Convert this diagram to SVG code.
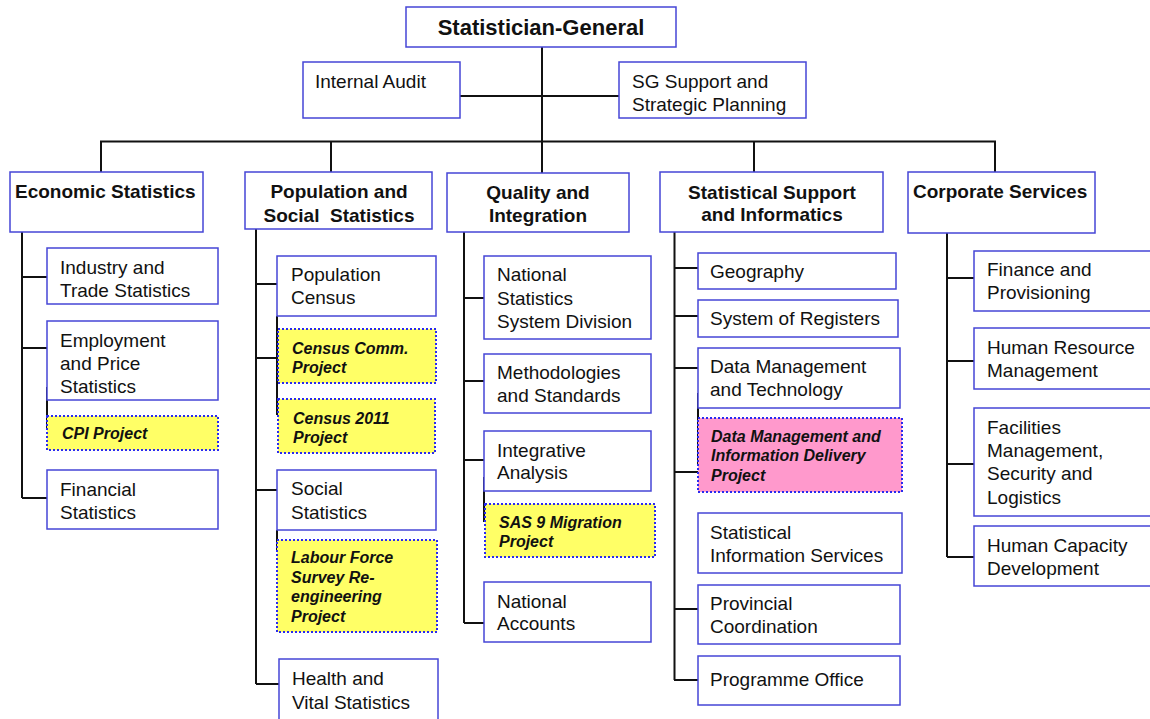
<svg xmlns="http://www.w3.org/2000/svg" width="1150" height="719" viewBox="0 0 1150 719">
  <style>
    .box { fill: #ffffff; stroke: #4646d6; stroke-width: 1.5; }
    .proj { fill: #ffff66; stroke: #2a2af0; stroke-width: 2; stroke-dasharray: 2 2; }
    .projp { fill: #ff99cc; stroke: #2a2af0; stroke-width: 2; stroke-dasharray: 2 2; }
    .ln { stroke: #111111; stroke-width: 2; fill: none; }
    text { font-family: "Liberation Sans", Arial, sans-serif; fill: #111111; }
    .t { font-size: 19px; }
    .h { font-size: 19px; font-weight: bold; }
    .hc { font-size: 19px; font-weight: bold; text-anchor: middle; }
    .p { font-size: 16px; font-weight: bold; font-style: italic; }
  </style>
  <rect width="1150" height="719" fill="#ffffff"/>

  <!-- connectors -->
  <g id="connectors" class="ln">
    <path d="M542 47 V203"/>
    <path d="M460 96 H619"/>
    <path d="M100 141.5 H996"/>
    <path d="M101 141 V172 M331 141 V172 M754 141 V172 M995 141 V172"/>
    <!-- Economic Statistics -->
    <path d="M22 232 V498 M22 277 H47 M22 348 H47 M22 498 H47 M47 387 V430"/>
    <!-- Population and Social Statistics -->
    <path d="M256 229 V684 M256 284 H277 M256 358 H278 M256 490 H277 M256 684 H279 M277 316 V415 M277 530 V552"/>
    <!-- Quality and Integration -->
    <path d="M464 232 V623 M464 298 H484 M464 381 H484 M464 460 H484 M464 623 H484 M484 477 V522"/>
    <!-- Statistical Support and Informatics -->
    <path d="M674.5 232 V680 M674 268 H698 M674 316 H698 M674 368 H698 M674 472 H698 M674 609 H698 M674 680 H698 M698 393 V465"/>
    <!-- Corporate Services -->
    <path d="M947 233 V557 M947 278 H974 M947 361 H974 M947 464 H974 M947 557 H974"/>
  </g>

  <!-- top level -->
  <g id="sg">
    <rect class="box" x="406" y="7" width="270" height="40"/>
    <text x="541" y="35" font-size="22" font-weight="bold" text-anchor="middle">Statistician-General</text>
  </g>
  <g id="internal-audit">
    <rect class="box" x="303" y="62" width="157" height="56"/>
    <text class="t" x="315" y="88">Internal Audit</text>
  </g>
  <g id="sg-support">
    <rect class="box" x="619" y="62" width="187" height="56"/>
    <text class="t" x="632" y="88">SG Support and</text>
    <text class="t" x="632" y="111">Strategic Planning</text>
  </g>

  <!-- divisions -->
  <g id="economic">
    <rect class="box" x="10" y="172" width="193" height="60"/>
    <text class="h" x="15" y="198">Economic Statistics</text>
  </g>
  <g id="population">
    <rect class="box" x="245" y="172" width="187" height="57"/>
    <text class="hc" x="339" y="198">Population and</text>
    <text class="hc" x="339" y="222" xml:space="preserve">Social  Statistics</text>
  </g>
  <g id="quality">
    <rect class="box" x="447" y="173" width="182" height="59"/>
    <text class="hc" x="538" y="199">Quality and</text>
    <text class="hc" x="538" y="222">Integration</text>
  </g>
  <g id="stat-support">
    <rect class="box" x="660" y="172" width="223" height="60"/>
    <text class="hc" x="772" y="199">Statistical Support</text>
    <text class="hc" x="772" y="221">and Informatics</text>
  </g>
  <g id="corporate">
    <rect class="box" x="908" y="172" width="187" height="61"/>
    <text class="h" x="913" y="198">Corporate Services</text>
  </g>

  <!-- Economic Statistics units -->
  <g id="industry">
    <rect class="box" x="47" y="248" width="171" height="56"/>
    <text class="t" x="60" y="274">Industry and</text>
    <text class="t" x="60" y="297">Trade Statistics</text>
  </g>
  <g id="employment">
    <rect class="box" x="47" y="321" width="171" height="79"/>
    <text class="t" x="60" y="347">Employment</text>
    <text class="t" x="60" y="370">and Price</text>
    <text class="t" x="60" y="393">Statistics</text>
  </g>
  <g id="cpi">
    <rect class="proj" x="47" y="416" width="171" height="34"/>
    <text class="p" x="62" y="439">CPI Project</text>
  </g>
  <g id="financial">
    <rect class="box" x="47" y="470" width="171" height="59"/>
    <text class="t" x="60" y="496">Financial</text>
    <text class="t" x="60" y="519">Statistics</text>
  </g>

  <!-- Population and Social Statistics units -->
  <g id="pop-census">
    <rect class="box" x="277" y="256" width="159" height="60"/>
    <text class="t" x="291" y="281">Population</text>
    <text class="t" x="291" y="304">Census</text>
  </g>
  <g id="census-comm">
    <rect class="proj" x="278" y="329" width="158" height="54"/>
    <text class="p" x="292" y="354">Census Comm.</text>
    <text class="p" x="292" y="373">Project</text>
  </g>
  <g id="census-2011">
    <rect class="proj" x="278" y="399" width="157" height="54"/>
    <text class="p" x="293" y="424">Census 2011</text>
    <text class="p" x="293" y="443">Project</text>
  </g>
  <g id="social">
    <rect class="box" x="277" y="470" width="159" height="60"/>
    <text class="t" x="291" y="495">Social</text>
    <text class="t" x="291" y="519">Statistics</text>
  </g>
  <g id="labour-force">
    <rect class="proj" x="277" y="540" width="160" height="92"/>
    <text class="p" x="291" y="563">Labour Force</text>
    <text class="p" x="291" y="583">Survey Re-</text>
    <text class="p" x="291" y="602">engineering</text>
    <text class="p" x="291" y="622">Project</text>
  </g>
  <g id="health">
    <rect class="box" x="279" y="659" width="159" height="64"/>
    <text class="t" x="292" y="685">Health and</text>
    <text class="t" x="292" y="709">Vital Statistics</text>
  </g>

  <!-- Quality and Integration units -->
  <g id="nssd">
    <rect class="box" x="484" y="256" width="167" height="83"/>
    <text class="t" x="497" y="281">National</text>
    <text class="t" x="497" y="305">Statistics</text>
    <text class="t" x="497" y="328">System Division</text>
  </g>
  <g id="methodologies">
    <rect class="box" x="484" y="354" width="167" height="59"/>
    <text class="t" x="497" y="379">Methodologies</text>
    <text class="t" x="497" y="402">and Standards</text>
  </g>
  <g id="integrative">
    <rect class="box" x="484" y="431" width="167" height="60"/>
    <text class="t" x="497" y="457">Integrative</text>
    <text class="t" x="497" y="479">Analysis</text>
  </g>
  <g id="sas9">
    <rect class="proj" x="485" y="504" width="170" height="53"/>
    <text class="p" x="499" y="528">SAS 9 Migration</text>
    <text class="p" x="499" y="547">Project</text>
  </g>
  <g id="national-accounts">
    <rect class="box" x="484" y="582" width="167" height="60"/>
    <text class="t" x="497" y="608">National</text>
    <text class="t" x="497" y="630">Accounts</text>
  </g>

  <!-- Statistical Support and Informatics units -->
  <g id="geography">
    <rect class="box" x="698" y="253" width="198" height="36"/>
    <text class="t" x="710" y="278">Geography</text>
  </g>
  <g id="registers">
    <rect class="box" x="698" y="300" width="200" height="37"/>
    <text class="t" x="710" y="325">System of Registers</text>
  </g>
  <g id="data-mgmt">
    <rect class="box" x="698" y="348" width="202" height="60"/>
    <text class="t" x="710" y="373">Data Management</text>
    <text class="t" x="710" y="396">and Technology</text>
  </g>
  <g id="dmid">
    <rect class="projp" x="698" y="418" width="204" height="74"/>
    <text class="p" x="711" y="442">Data Management and</text>
    <text class="p" x="711" y="461">Information Delivery</text>
    <text class="p" x="711" y="481">Project</text>
  </g>
  <g id="info-services">
    <rect class="box" x="698" y="513" width="204" height="60"/>
    <text class="t" x="710" y="539">Statistical</text>
    <text class="t" x="710" y="562">Information Services</text>
  </g>
  <g id="provincial">
    <rect class="box" x="698" y="585" width="202" height="59"/>
    <text class="t" x="710" y="610" fill="#000000">Provincial</text>
    <text class="t" x="710" y="633" fill="#000000">Coordination</text>
  </g>
  <g id="programme">
    <rect class="box" x="698" y="656" width="202" height="49"/>
    <text class="t" x="710" y="686">Programme Office</text>
  </g>

  <!-- Corporate Services units -->
  <g id="finance">
    <rect class="box" x="974" y="251" width="190" height="60"/>
    <text class="t" x="987" y="276">Finance and</text>
    <text class="t" x="987" y="299">Provisioning</text>
  </g>
  <g id="hr">
    <rect class="box" x="974" y="328" width="190" height="61"/>
    <text class="t" x="987" y="354">Human Resource</text>
    <text class="t" x="987" y="377">Management</text>
  </g>
  <g id="facilities">
    <rect class="box" x="974" y="408" width="190" height="108"/>
    <text class="t" x="987" y="434">Facilities</text>
    <text class="t" x="987" y="457">Management,</text>
    <text class="t" x="987" y="480">Security and</text>
    <text class="t" x="987" y="504">Logistics</text>
  </g>
  <g id="capacity">
    <rect class="box" x="974" y="526" width="190" height="60"/>
    <text class="t" x="987" y="552">Human Capacity</text>
    <text class="t" x="987" y="575">Development</text>
  </g>
</svg>
